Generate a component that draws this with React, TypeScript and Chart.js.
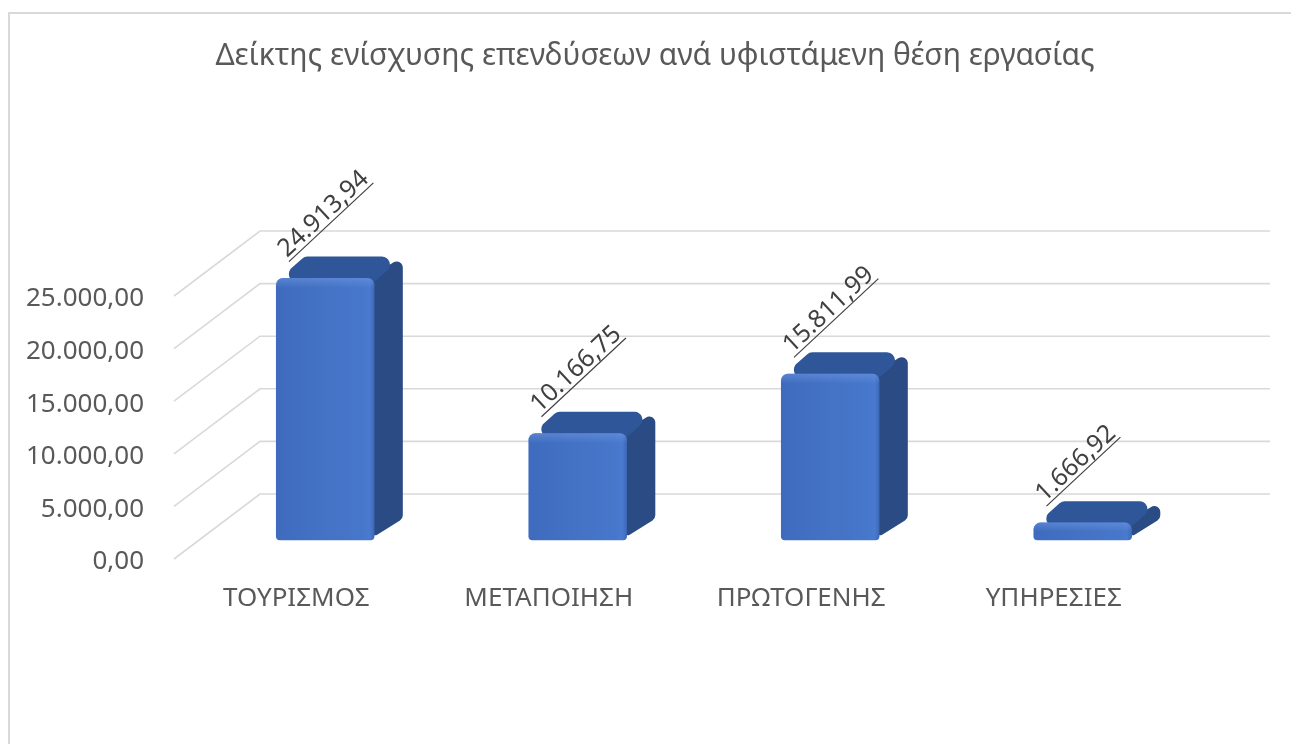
import React, { useEffect, useRef } from "react";
import { Chart, registerables } from "chart.js";

Chart.register(...registerables);

const TITLE = "Δείκτης ενίσχυσης επενδύσεων ανά υφιστάμενη θέση εργασίας";
const CATEGORIES = ["ΤΟΥΡΙΣΜΟΣ", "ΜΕΤΑΠΟΙΗΣΗ", "ΠΡΩΤΟΓΕΝΗΣ", "ΥΠΗΡΕΣΙΕΣ"];
const VALUES = [24913.94, 10166.75, 15811.99, 1666.92];
const Y_MIN = 0;
const Y_MAX = 25000;
const Y_STEP = 5000;

const FONT = "'Noto Sans', 'Open Sans', sans-serif";
const TEXT_COLOR = "#595959";
const LABEL_COLOR = "#404040";
const GRID_COLOR = "#D9D9D9";

// 3D geometry (oblique projection)
const WALL_DX = 86;
const WALL_DY = 65;
const FRONT_FRAC = 0.29;
const BAR_DEPTH_FRAC = 0.33;

function fmtGr(v: number): string {
  const fixed = Number(v).toFixed(2);
  const [intPart, dec] = fixed.split(".");
  const withDots = intPart.replace(/\B(?=(\d{3})+(?!\d))/g, ".");
  return withDots + "," + dec;
}

function roundPoly(ctx: CanvasRenderingContext2D, pts: number[][], r: number) {
  const n = pts.length;
  ctx.beginPath();
  const a = pts[n - 1];
  const b = pts[0];
  ctx.moveTo((a[0] + b[0]) / 2, (a[1] + b[1]) / 2);
  for (let i = 0; i < n; i++) {
    const p = pts[i];
    const q = pts[(i + 1) % n];
    ctx.arcTo(p[0], p[1], q[0], q[1], r);
  }
  ctx.closePath();
}

const bar3dPlugin = {
  id: "bar3d",
  beforeDatasetsDraw(chart: any) {
    const ctx: CanvasRenderingContext2D = chart.ctx;
    const ys = chart.scales.y;
    const area = chart.chartArea;
    ctx.save();
    ctx.strokeStyle = GRID_COLOR;
    ctx.lineWidth = 1.6;
    ys.ticks.forEach((t: any) => {
      const yf = ys.getPixelForValue(t.value);
      ctx.beginPath();
      ctx.moveTo(area.left, yf);
      ctx.lineTo(area.left + WALL_DX, yf - WALL_DY);
      ctx.lineTo(area.right + WALL_DX, yf - WALL_DY);
      ctx.stroke();
    });
    ctx.restore();

    const meta = chart.getDatasetMeta(0);
    const fx = WALL_DX * FRONT_FRAC;
    const fy = WALL_DY * FRONT_FRAC;
    const bdx = WALL_DX * BAR_DEPTH_FRAC;
    const bdy = WALL_DY * BAR_DEPTH_FRAC;
    meta.data.forEach((bar: any) => {
      const p = bar.getProps(["x", "y", "base", "width"], true);
      const xl = p.x - p.width / 2 + fx;
      const xr = p.x + p.width / 2 + fx;
      const yt = p.y - fy;
      const yb = p.base - fy;
      const h = yb - yt;
      const r = Math.min(7, h / 2.5);
      ctx.save();
      // side face
      roundPoly(ctx, [[xr - 6, yt], [xr + bdx, yt - bdy], [xr + bdx, yb - bdy], [xr - 6, yb]], Math.min(6, r));
      ctx.fillStyle = "#2A4B84";
      ctx.fill();
      // top face
      roundPoly(ctx, [[xl, yt + 4], [xl + bdx, yt - bdy], [xr + bdx, yt - bdy], [xr, yt + 4]], Math.min(8, r + 1));
      ctx.fillStyle = "#2F5698";
      ctx.fill();
      // front face
      const g = ctx.createLinearGradient(xl, 0, xr, 0);
      g.addColorStop(0, "#3E6BBD");
      g.addColorStop(0.5, "#4472C4");
      g.addColorStop(0.88, "#4777CB");
      g.addColorStop(0.95, "#4A7AD0");
      g.addColorStop(1, "#3D68B6");
      ctx.beginPath();
      (ctx as any).roundRect(xl, yt, xr - xl, h, [r, r, 4, 4]);
      ctx.fillStyle = g;
      ctx.fill();
      // top bevel highlight
      const gt = ctx.createLinearGradient(0, yt, 0, yt + Math.min(10, h / 2));
      gt.addColorStop(0, "rgba(110,150,225,0.55)");
      gt.addColorStop(1, "rgba(110,150,225,0)");
      ctx.beginPath();
      (ctx as any).roundRect(xl, yt, xr - xl, Math.min(10, h / 2), [r, r, 0, 0]);
      ctx.fillStyle = gt;
      ctx.fill();
      ctx.restore();
    });
  },
  afterDatasetsDraw(chart: any) {
    const ctx: CanvasRenderingContext2D = chart.ctx;
    const meta = chart.getDatasetMeta(0);
    const ds = chart.data.datasets[0];
    const fx = WALL_DX * FRONT_FRAC;
    const fy = WALL_DY * FRONT_FRAC;
    const bdy = WALL_DY * BAR_DEPTH_FRAC;
    ctx.save();
    ctx.font = `25px ${FONT}`;
    ctx.fillStyle = LABEL_COLOR;
    ctx.strokeStyle = LABEL_COLOR;
    ctx.lineWidth = 1.2;
    ctx.textAlign = "left";
    ctx.textBaseline = "alphabetic";
    meta.data.forEach((bar: any, i: number) => {
      const p = bar.getProps(["x", "y", "base", "width"], true);
      const xl = p.x - p.width / 2 + fx;
      const yt = p.y - fy;
      const ax = xl + 13;
      const ay = yt - bdy + 5;
      const txt = fmtGr(ds.data[i]);
      const w = ctx.measureText(txt).width;
      ctx.save();
      ctx.translate(ax, ay);
      ctx.rotate((-43 * Math.PI) / 180);
      ctx.fillText(txt, 1, -4);
      ctx.beginPath();
      ctx.moveTo(0, 0);
      ctx.lineTo(w + 2, 0);
      ctx.stroke();
      ctx.restore();
    });
    ctx.restore();
  },
};

export default function App() {
  const ref = useRef<HTMLCanvasElement>(null);
  useEffect(() => {
    const canvas = ref.current!;
    const chart = new Chart(canvas, {
      type: "bar",
      data: {
        labels: CATEGORIES,
        datasets: [
          {
            data: VALUES,
            backgroundColor: "rgba(0,0,0,0)",
            borderWidth: 0,
            categoryPercentage: 1,
            barPercentage: 0.39,
          },
        ],
      },
      options: {
        responsive: false,
        animation: false,
        devicePixelRatio: 1,
        events: [],
        layout: { padding: { left: 19, right: 0, top: 0, bottom: 0 } },
        plugins: {
          legend: { display: false },
          tooltip: { enabled: false },
          title: {
            display: true,
            text: TITLE,
            color: TEXT_COLOR,
            font: { family: FONT, size: 30, weight: "normal" as any, lineHeight: 1.2 },
            padding: { top: 38, bottom: 222 },
          },
        },
        scales: {
          x: {
            grid: { display: false, drawTicks: false },
            border: { display: false },
            ticks: {
              color: TEXT_COLOR,
              font: { family: FONT, size: 26 },
              padding: 24,
              maxRotation: 0,
              autoSkip: false,
              labelOffset: -4,
            },
            afterFit: (s: any) => {
              s.height = 185;
            },
          },
          y: {
            min: Y_MIN,
            max: Y_MAX,
            grid: { display: false, drawTicks: false },
            border: { display: false },
            ticks: {
              stepSize: Y_STEP,
              color: TEXT_COLOR,
              font: { family: FONT, size: 26 },
              padding: 30,
              labelOffset: 3,
              callback: (v: any) => fmtGr(Number(v)),
            },
            afterFit: (s: any) => {
              s.width = 155;
            },
          },
          yRight: {
            position: "right",
            display: true,
            grid: { display: false, drawTicks: false },
            border: { display: false },
            ticks: { display: false },
            afterFit: (s: any) => {
              s.width = 107;
            },
          },
        },
      },
      plugins: [bar3dPlugin],
    });
    return () => chart.destroy();
  }, []);

  return (
    <div
      style={{
        position: "fixed",
        left: 0,
        top: 0,
        width: 1291,
        height: 744,
        overflow: "hidden",
        background: "#fff",
      }}
    >
      <div
        style={{
          position: "absolute",
          left: 8,
          top: 12,
          width: 1400,
          height: 900,
          border: `2px solid ${GRID_COLOR}`,
          boxSizing: "border-box",
        }}
      />
      <canvas
        ref={ref}
        width={1291}
        height={744}
        style={{ position: "absolute", left: 0, top: 0, width: 1291, height: 744 }}
      />
    </div>
  );
}
